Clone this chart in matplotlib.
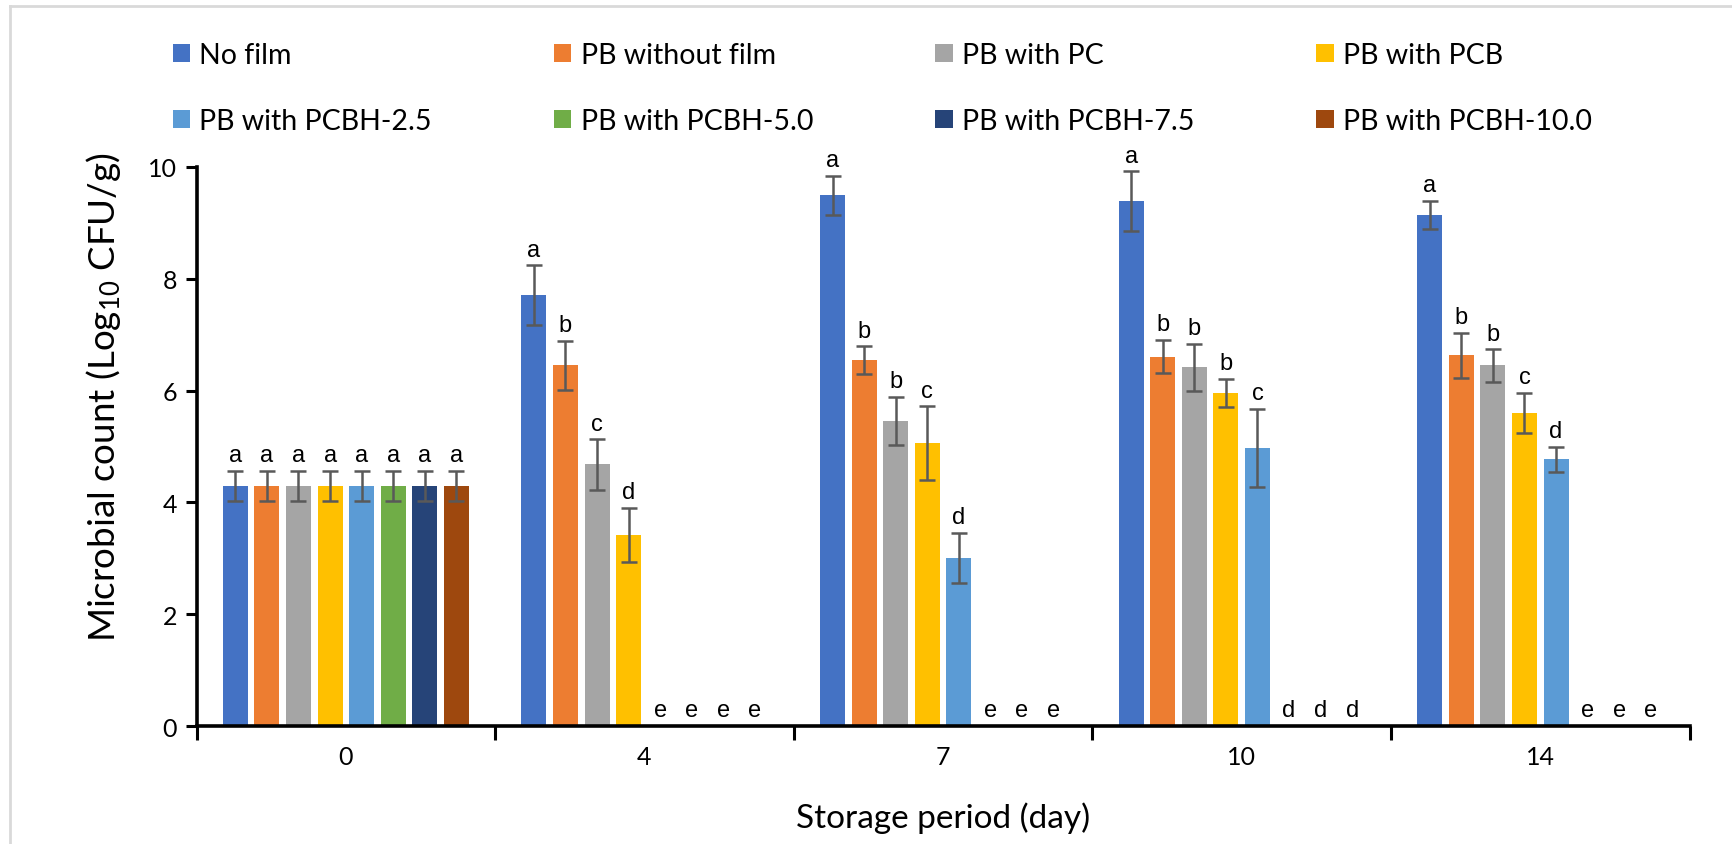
import numpy as np
import matplotlib
matplotlib.use('Agg')
import matplotlib.pyplot as plt
from matplotlib.ticker import FixedLocator

plt.rcParams['font.family'] = ['Lato', 'DejaVu Sans']
plt.rcParams['mathtext.default'] = 'regular'

days = ['0', '4', '7', '10', '14']
series = ['No film', 'PB without film', 'PB with PC', 'PB with PCB',
          'PB with PCBH-2.5', 'PB with PCBH-5.0', 'PB with PCBH-7.5', 'PB with PCBH-10.0']
colors = ['#4472C4', '#ED7D31', '#A5A5A5', '#FFC000',
          '#5B9BD5', '#70AD47', '#264478', '#9E480E']

# mean counts (nan = no growth / not detected)
no_film = [4.30, 7.71, 9.49, 9.39, 9.14]
pb_no_film = [4.30, 6.45, 6.54, 6.61, 6.63]
pb_pc = [4.30, 4.68, 5.46, 6.42, 6.45]
pb_pcb = [4.30, 3.42, 5.06, 5.96, 5.60]
pb_pcbh_25 = [4.30, np.nan, 3.01, 4.97, 4.77]
pb_pcbh_50 = [4.30, np.nan, np.nan, np.nan, np.nan]
pb_pcbh_75 = [4.30, np.nan, np.nan, np.nan, np.nan]
pb_pcbh_100 = [4.30, np.nan, np.nan, np.nan, np.nan]

err_no_film = [0.27, 0.53, 0.35, 0.53, 0.25]
err_pb_no_film = [0.27, 0.44, 0.25, 0.30, 0.40]
err_pb_pc = [0.27, 0.45, 0.43, 0.42, 0.29]
err_pb_pcb = [0.27, 0.48, 0.66, 0.25, 0.36]
err_pb_pcbh_25 = [0.27, np.nan, 0.45, 0.70, 0.22]
err_pb_pcbh_50 = [0.27, np.nan, np.nan, np.nan, np.nan]
err_pb_pcbh_75 = [0.27, np.nan, np.nan, np.nan, np.nan]
err_pb_pcbh_100 = [0.27, np.nan, np.nan, np.nan, np.nan]

# significance letters, one string per series (one char per day)
letters = ['aaaaa', 'abbbb', 'acbbb', 'adcbc',
           'aedcd', 'aeede', 'aeede', 'aeede']

values = [no_film, pb_no_film, pb_pc, pb_pcb, pb_pcbh_25, pb_pcbh_50, pb_pcbh_75, pb_pcbh_100]
errors = [err_no_film, err_pb_no_film, err_pb_pc, err_pb_pcb,
          err_pb_pcbh_25, err_pb_pcbh_50, err_pb_pcbh_75, err_pb_pcbh_100]

fig = plt.figure(figsize=(17.32, 8.45), dpi=100)
ax = fig.add_axes([0.1135, 0.1396, 0.862, 0.6616])

x = np.arange(len(days))
pitch = 0.1058
width = 0.084
handles = []
for i, (name, vals, errs, col) in enumerate(zip(series, values, errors, colors)):
    vals = np.array(vals, dtype=float)
    errs = np.array(errs, dtype=float)
    pos = x + (i - 3.5) * pitch
    b = ax.bar(pos, np.nan_to_num(vals), width, color=col, label=name, zorder=2)
    handles.append(b)
    ax.errorbar(pos, vals, yerr=errs, fmt='none', ecolor='#595959',
                elinewidth=1.8, capsize=6, capthick=1.8, zorder=3)
    for k in range(len(days)):
        top = 0 if np.isnan(vals[k]) else vals[k] + errs[k]
        ax.annotate(letters[i][k], (pos[k], top), xytext=(0, 7), textcoords='offset points',
                    ha='center', va='baseline', fontsize=17, family='Liberation Sans')

ax.set_xlim(-0.5, 4.5)
ax.set_ylim(0, 10)
ax.set_yticks(np.arange(0, 11, 2))
ax.set_xticks(x)
ax.set_xticklabels(days)
ax.xaxis.set_minor_locator(FixedLocator(np.arange(-0.5, 5, 1)))
ax.tick_params(axis='x', which='major', length=0, pad=14, labelsize=18)
ax.tick_params(axis='x', which='minor', length=10, width=2.2, direction='out')
ax.tick_params(axis='y', length=8, width=2.2, direction='out', pad=6, labelsize=18)
for s in ['top', 'right']:
    ax.spines[s].set_visible(False)
for s in ['left', 'bottom']:
    ax.spines[s].set_linewidth(2.6)

ax.set_xlabel('Storage period (day)', fontsize=24, labelpad=24)
ax.set_ylabel('Microbial count (Log$_{10}$ CFU/g)', fontsize=26.5)
ax.yaxis.set_label_coords(-0.049, 0.59)

# legend filled row by row (matplotlib fills columns first)
order = [0, 4, 1, 5, 2, 6, 3, 7]
fig.legend([handles[j] for j in order], [series[j] for j in order], ncols=4,
           loc='upper left', bbox_to_anchor=(0.1, 0.949),
           frameon=False, fontsize=20.5, handlelength=0.6, handleheight=0.6,
           handletextpad=0.32, columnspacing=4.3, labelspacing=1.41, borderpad=0,
           borderaxespad=0)

# light chart-area border (top and left only)
fig.add_artist(plt.Line2D([0.006, 1], [0.9917, 0.9917], color='#d9d9d9', lw=2))
fig.add_artist(plt.Line2D([0.006, 0.006], [0, 0.9917], color='#d9d9d9', lw=2))

fig.savefig('out.png', dpi=100)
